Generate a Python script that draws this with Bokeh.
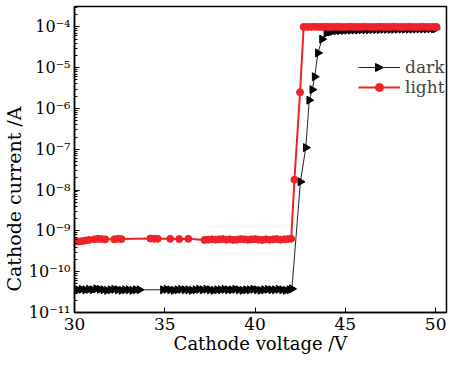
import math
from bokeh.plotting import figure
from bokeh.models import (Range1d, FixedTicker, CustomJSTickFormatter, Legend, LegendItem,
                          ColumnDataSource, Title, Arrow, NormalHead)
from bokeh.embed import file_html
from bokeh.resources import INLINE

# ---- data ----
dark_x = [30.0, 30.2, 30.4, 30.6, 30.8, 31.0, 31.2, 31.4, 31.6, 31.8, 32.0, 32.2, 32.4, 32.6, 32.8,
          33.0, 33.2, 33.4, 33.6,
          34.9, 35.1, 35.3, 35.5, 35.7, 35.9, 36.1, 36.3, 36.5, 36.7, 36.9, 37.1, 37.3, 37.5, 37.7,
          37.9, 38.1, 38.3, 38.5, 38.7, 38.9, 39.1, 39.3, 39.5, 39.7, 39.9, 40.1, 40.3, 40.5, 40.7,
          40.9, 41.1, 41.3, 41.5, 41.7, 41.9, 42.04,
          42.51, 42.81, 43.0, 43.17, 43.3, 43.48, 43.71, 43.95, 44.16,
          44.3, 44.5, 44.7, 44.9, 45.1, 45.3, 45.5, 45.7, 45.9, 46.1, 46.3, 46.5, 46.7, 46.9, 47.1,
          47.3, 47.5, 47.7, 47.9, 48.1, 48.3, 48.5, 48.7, 48.9, 49.1, 49.3, 49.5, 49.7, 49.9, 50.0]
dark_y = [3.7e-11, 3.6e-11, 3.7e-11, 3.6e-11, 3.7e-11, 3.6e-11, 3.8e-11, 3.7e-11, 3.6e-11, 3.5e-11,
          3.6e-11, 3.7e-11, 3.6e-11, 3.5e-11, 3.6e-11, 3.6e-11, 3.5e-11, 3.6e-11, 3.6e-11,
          3.6e-11, 3.7e-11, 3.6e-11, 3.5e-11, 3.6e-11, 3.7e-11, 3.6e-11, 3.6e-11, 3.5e-11, 3.6e-11,
          3.7e-11, 3.6e-11, 3.7e-11, 3.6e-11, 3.5e-11, 3.6e-11, 3.6e-11, 3.7e-11, 3.6e-11, 3.6e-11,
          3.7e-11, 3.6e-11, 3.5e-11, 3.6e-11, 3.6e-11, 3.7e-11, 3.6e-11, 3.5e-11, 3.6e-11, 3.7e-11,
          3.6e-11, 3.6e-11, 3.7e-11, 3.6e-11, 3.5e-11, 3.6e-11, 3.8e-11,
          1.6e-8, 1.1e-7, 1.6e-6, 2.9e-6, 6.0e-6, 2.3e-5, 5.0e-5, 7.0e-5, 7.5e-5,
          7.8e-5, 8.0e-5, 8.1e-5, 8.2e-5, 8.3e-5, 8.3e-5, 8.4e-5, 8.4e-5, 8.5e-5, 8.5e-5, 8.5e-5,
          8.6e-5, 8.6e-5, 8.6e-5, 8.7e-5, 8.7e-5, 8.7e-5, 8.7e-5, 8.8e-5, 8.8e-5, 8.8e-5, 8.8e-5,
          8.8e-5, 8.9e-5, 8.9e-5, 8.9e-5, 8.9e-5, 9.0e-5, 9.0e-5, 9.0e-5]

light_x = [30.0, 30.2, 30.4, 30.6, 30.8, 31.1, 31.3, 31.5, 31.7, 32.2, 32.4, 32.6, 34.2, 34.4, 34.6,
           35.3, 35.8, 36.3, 37.2, 37.4, 37.6, 37.8, 38.0, 38.2, 38.4, 38.6, 38.8, 39.0, 39.2, 39.4,
           39.6, 39.8, 40.0, 40.2, 40.4, 40.6, 40.8, 41.0, 41.2, 41.4, 41.6, 41.8, 42.0,
           42.18, 42.49, 42.69,
           42.9, 43.1, 43.3, 43.5, 43.7, 43.9, 44.1, 44.3, 44.5, 44.7, 44.9, 45.1, 45.3, 45.5, 45.7,
           45.9, 46.1, 46.3, 46.5, 46.7, 46.9, 47.1, 47.3, 47.5, 47.7, 47.9, 48.1, 48.3, 48.5, 48.7,
           48.9, 49.1, 49.3, 49.5, 49.7, 49.9, 50.05]
light_y = [5.4e-10, 5.5e-10, 5.6e-10, 5.8e-10, 6.0e-10, 6.2e-10, 6.4e-10, 6.3e-10, 6.2e-10, 6.2e-10,
           6.4e-10, 6.3e-10, 6.5e-10, 6.4e-10, 6.4e-10, 6.4e-10, 6.3e-10, 6.4e-10, 6.0e-10, 6.1e-10,
           6.2e-10, 6.1e-10, 6.2e-10, 6.3e-10, 6.1e-10, 6.2e-10, 6.0e-10, 6.1e-10, 6.3e-10, 6.2e-10,
           6.1e-10, 6.2e-10, 6.3e-10, 6.1e-10, 6.0e-10, 6.2e-10, 6.1e-10, 6.2e-10, 6.3e-10, 6.1e-10,
           6.2e-10, 6.3e-10, 6.4e-10,
           1.8e-8, 2.5e-6, 1.0e-4,
           1.0e-4, 1.0e-4, 1.01e-4, 1.0e-4, 1.0e-4, 1.01e-4, 1.0e-4, 1.0e-4, 1.01e-4, 1.0e-4, 1.0e-4,
           1.0e-4, 1.01e-4, 1.0e-4, 1.0e-4, 1.0e-4, 1.01e-4, 1.0e-4, 1.0e-4, 1.0e-4, 1.01e-4, 1.0e-4,
           1.0e-4, 1.0e-4, 1.01e-4, 1.0e-4, 1.0e-4, 1.0e-4, 1.01e-4, 1.0e-4, 1.0e-4, 1.0e-4, 1.01e-4,
           1.0e-4, 1.0e-4, 1.0e-4, 1.0e-4]

x_ticks = [30, 35, 40, 45, 50]
y_ticks = [1e-11, 1e-10, 1e-9, 1e-8, 1e-7, 1e-6, 1e-5, 1e-4]

FONT = "DejaVu Serif"
RED = "#ee2229"

p = figure(width=450, height=362, y_axis_type="log", output_backend="svg",
           toolbar_location=None, x_range=Range1d(30, 50.6), y_range=Range1d(1e-11, 10 ** -3.5),
           min_border_left=40, min_border_right=4, min_border_top=6, min_border_bottom=50)
p.grid.grid_line_color = None
p.outline_line_color = "black"
p.outline_line_width = 1.5
p.background_fill_color = "white"
p.border_fill_color = "white"

dsrc = ColumnDataSource(dict(x=dark_x, y=dark_y))
lsrc = ColumnDataSource(dict(x=light_x, y=light_y))

dl = p.line("x", "y", source=dsrc, line_color="#222222", line_width=1)
ds = p.scatter("x", "y", source=dsrc, marker="triangle", size=8, angle=-math.pi / 2,
               fill_color="black", line_color="black")
ll = p.line("x", "y", source=lsrc, line_color=RED, line_width=2)
ls = p.scatter("x", "y", source=lsrc, marker="circle", size=7, fill_color=RED, line_color=RED)

minor = [m * 10.0 ** e for e in range(-11, -3) for m in range(2, 10)]
p.yaxis.ticker = FixedTicker(ticks=y_ticks, minor_ticks=minor)
p.yaxis.formatter = CustomJSTickFormatter(code="""
const e = Math.round(Math.log10(tick));
const sup = {'-':'\u207b','0':'\u2070','1':'\u00b9','2':'\u00b2','3':'\u00b3','4':'\u2074',
             '5':'\u2075','6':'\u2076','7':'\u2077','8':'\u2078','9':'\u2079'};
return '10' + String(e).split('').map(c => sup[c]).join('');
""")
p.xaxis.ticker = FixedTicker(ticks=x_ticks)

for ax in (p.xaxis[0], p.yaxis[0]):
    ax.axis_line_width = 1.5
    ax.axis_line_color = "black"
    ax.major_tick_in = 5
    ax.major_tick_out = 0
    ax.minor_tick_in = 3
    ax.minor_tick_out = 0
    ax.major_tick_line_color = "black"
    ax.major_label_text_font = FONT
    ax.major_label_text_font_size = "17px"
    ax.major_label_text_color = "black"
    ax.axis_label_text_font = FONT
    ax.axis_label_text_font_size = "18px"
    ax.axis_label_text_font_style = "normal"
    ax.axis_label_text_color = "black"

p.yaxis.major_label_text_font_size = "16px"
p.xaxis.minor_tick_line_color = None
p.xaxis.axis_label = "Cathode voltage /V"
p.xaxis.major_label_standoff = 5
p.xaxis.axis_label_standoff = 0
p.yaxis.major_label_standoff = 4

ytitle = Title(text="Cathode current /A", align="left", offset=21, standoff=1,
               text_font=FONT, text_font_size="19px", text_font_style="normal",
               text_color="black")
p.add_layout(ytitle, "left")

legend = Legend(items=[LegendItem(label="dark", renderers=[dl]),
                       LegendItem(label="light", renderers=[ll, ls])],
                location=(284, 215), padding=0, margin=0, spacing=0,
                glyph_width=42, glyph_height=20, label_height=20, label_standoff=5,
                label_text_font=FONT, label_text_font_size="17px",
                background_fill_alpha=0, border_line_color=None)
p.add_layout(legend)
# right-pointing triangle drawn on the "dark" legend entry
p.add_layout(Arrow(x_start=300, y_start=245, x_end=309, y_end=245,
                   start_units="screen", end_units="screen", line_alpha=0,
                   end=NormalHead(size=8, fill_color="black", line_color="black", line_width=1)))

open("out.html", "w").write(file_html(p, INLINE))
